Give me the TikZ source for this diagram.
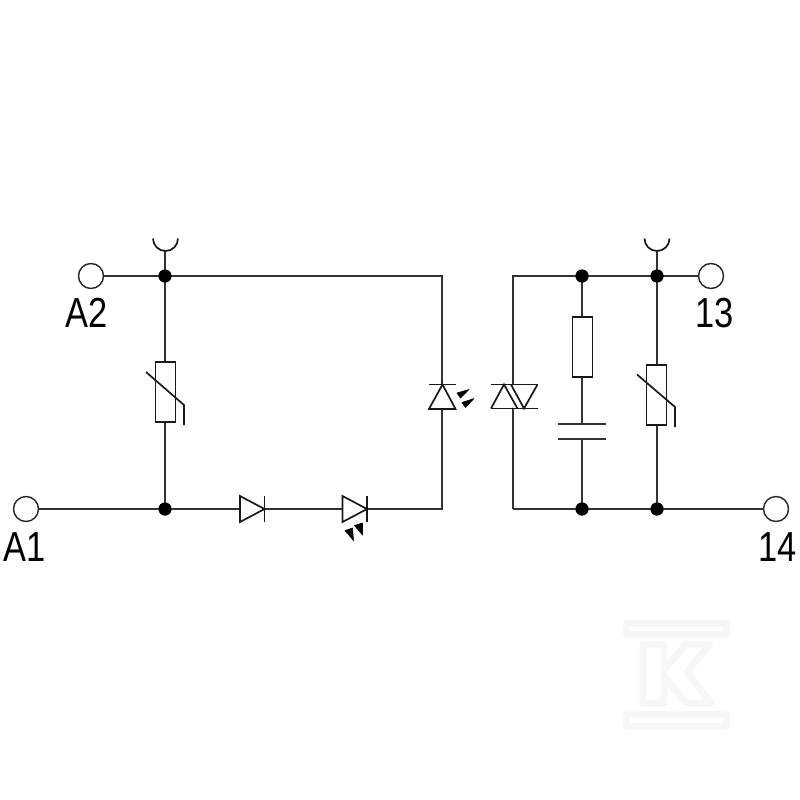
\documentclass[tikz,border=0pt]{standalone}
\usepackage{fontspec}
\setmainfont{Liberation Sans}
\definecolor{halo}{HTML}{F7F7F7}
\newcommand{\termlabel}[1]{\fontsize{42}{42}\selectfont\scalebox{.82}[1]{#1}}
\tikzset{
  wire/.style={line width=1.8pt,black!80},
  sym/.style={line width=1.7pt,black!90,line join=miter},
  terminal/.style={circle,draw=black!85,line width=1.4pt,fill=white,minimum size=25pt,inner sep=0pt},
  junction/.style={circle,fill=black,minimum size=13pt,inner sep=0pt},
  resbox/.style={rectangle,draw=black!90,line width=1.7pt,fill=white,minimum width=20pt,minimum height=60pt,inner sep=0pt},
  tlabel/.style={anchor=base,inner sep=0pt,text=black},
  wedge/.style={fill=black,draw=black,line width=.6pt,line join=round},
  wmark/.style={fill=white,draw=halo,line width=7pt,line join=round}
}
\begin{document}
\begin{tikzpicture}[x=1pt,y=-1pt]
\useasboundingbox (0,0) rectangle (800,800);
% faint watermark
\draw[wmark] (626,623) rectangle (726,634);
\draw[wmark] (626,714) rectangle (726,726);
\draw[wmark] (643,644)--(664,644)--(664,670)--(686,644)--(710,644)--(687,672)--(711,703)--(686,703)--(664,676)--(664,703)--(643,703)--cycle;
% nodes
\node[terminal] (tA2) at (91,276) {};
\node[terminal] (tA1) at (26,509) {};
\node[terminal] (t13) at (711,276) {};
\node[terminal] (t14) at (776,509) {};
\node[junction] (j1) at (165,276) {};
\node[junction] (j2) at (165,509) {};
\node[junction] (j3) at (582,276) {};
\node[junction] (j4) at (657,276) {};
\node[junction] (j5) at (582,509) {};
\node[junction] (j6) at (657,509) {};
\coordinate (c1) at (442,276);
\coordinate (c2) at (442,509);
\coordinate (c3) at (513,276);
\coordinate (c4) at (513,509);
\coordinate (s1) at (165,251);
\coordinate (s2) at (657,251);
\coordinate (capT) at (582,424);
\coordinate (capB) at (582,439);
% wires
\draw[wire] (tA2.east) -- (j1.center) -- (c1) -- (c2) -- (tA1.east);
\draw[wire] (s1) -- (j2.center);
\draw[wire] (c4) -- (c3) -- (t13.west);
\draw[wire] (c4) -- (t14.west);
\draw[wire] (s2) -- (j6.center);
\draw[wire] (j3.center) -- (capT);
\draw[wire] (capB) -- (j5.center);
% junctions on top of wires
\foreach \j in {j1,j2,j3,j4,j5,j6} \fill (\j) circle[radius=6.5pt];
% sockets
\draw[sym] (153,238.5) arc[start angle=180,end angle=0,radius=12.5];
\draw[sym] (644.5,238.5) arc[start angle=180,end angle=0,radius=12.5];
% varistors
\node[resbox] (v1) at (165.5,392) {};
\draw[sym] (146,372) -- (184,405) -- (184,425);
\node[resbox] (v2) at (656.5,395) {};
\draw[sym] (637,374.5) -- (675,407) -- (675,427);
% resistor and capacitor
\node[resbox] (r1) at (582.5,347) {};
\draw[sym,black!80] (558,424) -- (606,424);
\draw[sym,black!80] (558,439) -- (606,439);
% diode
\draw[sym,fill=white] (240,496) -- (264.5,509) -- (240,522) -- cycle;
\draw[sym] (264.5,496) -- (264.5,522);
% LED in series
\draw[sym,fill=white] (342.5,496) -- (367,509) -- (342.5,522) -- cycle;
\draw[sym] (367,496) -- (367,522);
\draw[wedge] (345,530.5) -- (352.5,528) -- (353.5,540.5) -- cycle;
\draw[wedge] (354.5,525.5) -- (362.5,523) -- (362.5,535) -- cycle;
% opto LED
\draw[sym] (429,384.5) -- (456,384.5);
\draw[sym,fill=white] (442.5,384.5) -- (455.5,409) -- (429,409) -- cycle;
\draw[wedge] (457,393) -- (469,389.5) -- (460.5,398) -- cycle;
\draw[wedge] (462,402.5) -- (474,398.5) -- (465.5,407.5) -- cycle;
% triac
\fill[white] (491,384.5) rectangle (538,408.5);
\draw[sym] (491,384.5) -- (538,384.5);
\draw[sym] (491,408.5) -- (538,408.5);
\draw[sym] (491,408.5) -- (504,384.5) -- (517.5,408.5);
\draw[sym] (511,384.5) -- (524,408.5) -- (537.5,384.5);
% labels
\node[tlabel] at (86.5,327) {\termlabel{A2}};
\node[tlabel] at (24.5,561) {\termlabel{A1}};
\node[tlabel] at (714.5,327) {\termlabel{13}};
\node[tlabel] at (777.5,561) {\termlabel{14}};
\end{tikzpicture}
\end{document}
